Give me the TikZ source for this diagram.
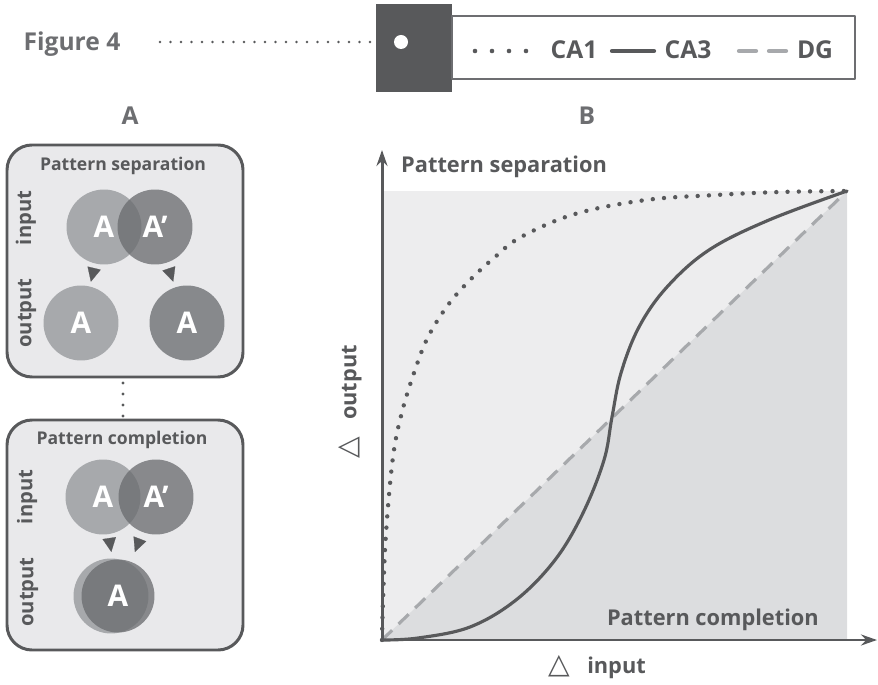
\documentclass[tikz,border=0pt]{standalone}
\usepackage{fontspec}
\setmainfont{Open Sans}
\newfontfamily\symfont{DejaVu Sans}
\usetikzlibrary{arrows.meta,calc}
\definecolor{ink}{HTML}{58595B}
\definecolor{inkmid}{HTML}{6D6E71}
\definecolor{lightA}{HTML}{A7A9AC}
\definecolor{darkA}{HTML}{6B6D70}
\definecolor{outB}{HTML}{87898C}
\definecolor{panelbg}{HTML}{E9E9EB}
\definecolor{upperbg}{HTML}{EDEDEE}
\definecolor{lowerbg}{HTML}{DCDDDF}
\definecolor{dgline}{HTML}{A7A9AC}
\newcommand{\deltasym}{{\symfont\fontsize{16}{16}\selectfont △}}
\tikzset{
  lbl/.style={font=\bfseries\fontsize{14}{16}\selectfont, text=inkmid},
  axlbl/.style={font=\bfseries\fontsize{12.4}{15}\selectfont, text=ink},
  paneltitle/.style={font=\bfseries\fontsize{10}{12}\selectfont, text=ink},
  sidelbl/.style={font=\bfseries\fontsize{11.5}{13}\selectfont, text=ink, rotate=90},
  panelbox/.style={draw=ink, line width=1.7pt, fill=panelbg, rounded corners=0.5cm},
  blob/.style={circle, minimum size=1.5cm, inner sep=0pt, text=white,
    font=\bfseries\fontsize{17}{20}\selectfont},
  blobA/.style={blob, fill=lightA},
  blobB/.style={blob, fill=darkA, fill opacity=0.77, text opacity=1},
  headtip/.style={line width=0.1pt, draw=ink, fill=ink,
    -{Triangle[length=0.28cm,width=0.27cm]}},
  ca1/.style={draw=ink, line width=2.5pt, line cap=round, dash pattern=on 0pt off 0.225cm},
  ca3/.style={draw=ink, line width=1.8pt, line cap=round},
  dg/.style={draw=dgline, line width=1.8pt, dash pattern=on 0.28cm off 0.18cm},
}
\begin{document}
\begin{tikzpicture}[x=0.02cm, y=-0.02cm, line join=round]
\useasboundingbox (0,0) rectangle (878,685);

% header with legend
\node[lbl] (fig) at (72,44) {Figure 4};
\fill[ink] (376,4) rectangle (452,92);
\draw[inkmid, line width=1.2pt, fill=white] (452,16) rectangle (855,79);
\node[circle, fill=white, minimum size=0.28cm, inner sep=0pt] (dot) at (401,42) {};
\coordinate (lead) at (160,42);
\draw[ink, line width=1.6pt, line cap=round, dash pattern=on 0pt off 0.21cm] (lead) -- (dot.west);
\draw[ink, line width=2.6pt, line cap=round, dash pattern=on 0pt off 0.34cm] (475,51) -- (527,51);
\node[lbl, text=ink] (ca1) at (574,50) {CA1};
\draw[ink, line width=2.4pt, line cap=round] (612,51) -- (654,51);
\node[lbl, text=ink] (ca3) at (688,50) {CA3};
\draw[dgline, line width=2.4pt, line cap=round, dash pattern=on 0.34cm off 0.26cm] (739,51) -- (790,51);
\node[lbl, text=ink] (dg) at (815,50) {DG};

\node[lbl] (labA) at (130,116) {A};
\node[lbl] (labB) at (587,116) {B};

% panel A, pattern separation
\draw[panelbox] (7,145) rectangle (243,377);
\node[paneltitle] (sepT) at (123,166) {Pattern separation};
\node[sidelbl] at (26,218) {input};
\node[sidelbl] at (27,313) {output};
\node[blobA] (sepA) at (104,227) {A};
\node[blobB] (sepAp) at (155,227) {A’};
\node[blobA] (sepOutA) at (81,323) {A};
\node[blob, fill=outB] (sepOutAp) at (187,323) {A};
\draw[headtip] ($(sepA)!0.44!(sepOutA)$) -- ($(sepA)!0.57!(sepOutA)$);
\draw[headtip] ($(sepAp)!0.44!(sepOutAp)$) -- ($(sepAp)!0.57!(sepOutAp)$);

% dotted link between the boxes
\coordinate (linkTop) at (123,383);
\coordinate (linkBot) at (123,417);
\draw[ink, line width=1.8pt, line cap=round, dash pattern=on 0pt off 0.22cm] (linkTop) -- (linkBot);

% panel A, pattern completion
\draw[panelbox] (7,420) rectangle (243,650);
\node[paneltitle] (cmpT) at (122,440) {Pattern completion};
\node[sidelbl] at (27,497) {input};
\node[sidelbl] at (29,592) {output};
\node[blobA] (cmpA) at (103,497) {};
\node[blobB] (cmpAp) at (156,497) {A’};
\node[blob, text=white] at (cmpA) {A};
\node[blobA] (cmpOutBack) at (111,596) {};
\node[blobB, minimum size=1.46cm] (cmpOut) at (118,596) {A};
\draw[headtip] ($(cmpA)!0.42!(cmpOut)$) -- ($(cmpA)!0.555!(cmpOut)$);
\draw[headtip] ($(cmpAp)!0.42!(cmpOut)$) -- ($(cmpAp)!0.555!(cmpOut)$);

% panel B
\coordinate (O) at (382,640);
\coordinate (C) at (847,191);
\fill[upperbg] (O) rectangle (C);
\fill[lowerbg] (O) -- (847,640) -- (C) -- cycle;
\draw[dg] (O) -- (C);
\draw[ca1] plot[smooth, tension=0.6] coordinates {(382,640) (383,600) (386,533)
  (393,457) (402,412) (415,370) (428,337) (448,305) (470,280) (495,257) (521,237)
  (575,214) (646,200) (716,195) (780,192) (847,191)};
\draw[ca3] plot[smooth, tension=0.6] coordinates {(382,640) (418,638) (470,627)
  (516,600) (555,560) (583,513) (604,460) (612,417) (621,373) (639,327) (667,287)
  (709,250) (769,220) (847,191)};
\draw[ink, line width=1.7pt, -{Stealth[length=0.32cm,width=0.22cm]}] (O) -- (382,150);
\draw[ink, line width=1.7pt, -{Stealth[length=0.32cm,width=0.22cm]}] (O) -- (877,640);
\node[axlbl, anchor=west] (sepB) at (395,167) {Pattern separation};
\node[axlbl, anchor=east] (cmpB) at (825,620) {Pattern completion};
\node[axlbl, rotate=90] (yl) at (350,402) {\deltasym\hspace{0.8em}output};
\node[axlbl] (xl) at (597,667) {\deltasym\hspace{0.8em}input};
\end{tikzpicture}
\end{document}
